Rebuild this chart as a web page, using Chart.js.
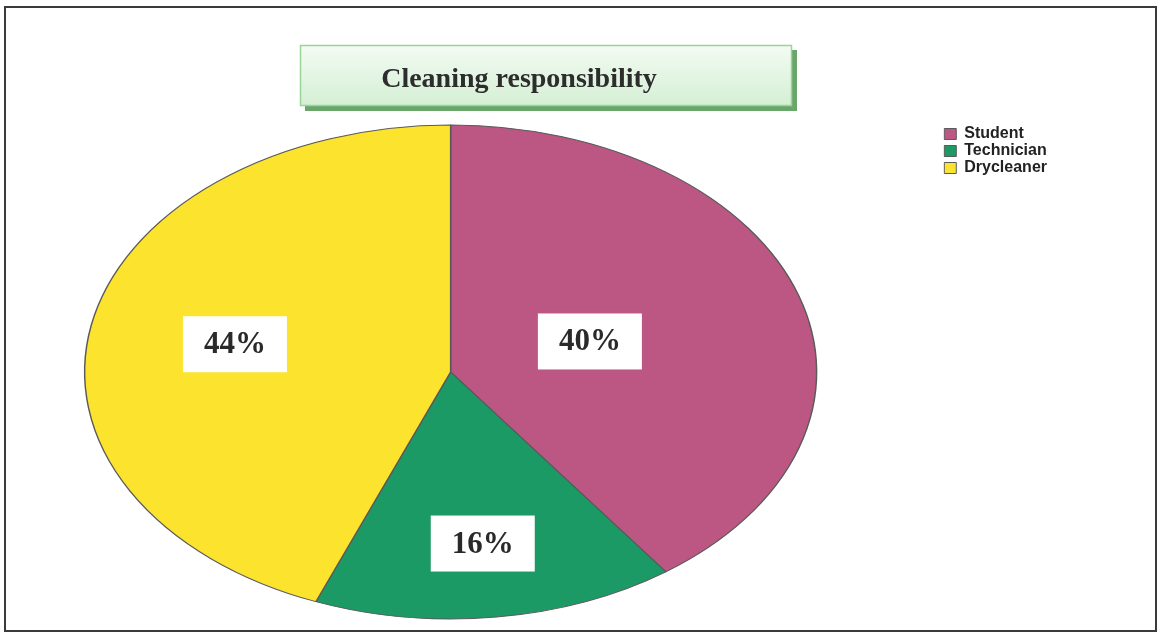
<!DOCTYPE html>
<html>
<head>
<meta charset="utf-8">
<script src="https://cdn.jsdelivr.net/npm/chart.js@4.4.1/dist/chart.umd.min.js"></script>
<style>
html,body{margin:0;padding:0;background:#fff;overflow:hidden;}
#wrap{width:1159px;height:633px;overflow:hidden;}
/* canvas is a little wider than the page and pulled left, so the pie centre can sit left of the legend gap */
#pie{margin-left:-42px;}
</style>
</head>
<body>
<div id="wrap"><canvas id="pie" width="1201" height="633"></canvas></div>
<script>
// data
const groups = ['Student', 'Technician', 'Drycleaner'];
const shares = [40, 16, 44];
const sliceColours = ['#bc5682', '#1c9a66', '#fbe32e'];
const chartTitle = 'Cleaning responsibility';

const shiftX = 42;
// the pie in the scan is an ellipse: horizontal radius / vertical radius
const stretchX = 366 / 247;
// how far out along each slice the % box sits (fraction of radius)
const labelReach = [0.4, 0.7, 0.6];

const squash = {
	id: 'squash',
	beforeDatasetDraw(chart, args){
		const arc = args.meta.data[0];
		const ctx = chart.ctx;
		ctx.save();
		ctx.translate(arc.x, arc.y);
		ctx.scale(stretchX, 1);
		ctx.translate(-arc.x, -arc.y);
	},
	afterDatasetDraw(chart){ chart.ctx.restore(); }
};

const frame = {
	id: 'frame',
	beforeDraw(chart){
		const ctx = chart.ctx;
		ctx.save();
		ctx.fillStyle = '#fff';
		ctx.fillRect(0, 0, chart.width, chart.height);
		ctx.translate(shiftX, 0);
		ctx.strokeStyle = '#3a3a3a';
		ctx.lineWidth = 2;
		ctx.strokeRect(5, 7, 1151, 624);

		// title box with a drop shadow
		ctx.fillStyle = '#6aa66a';
		ctx.fillRect(305, 50, 492, 61);
		const g = ctx.createLinearGradient(0, 45, 0, 106);
		g.addColorStop(0, '#f3fbf3');
		g.addColorStop(1, '#d4efd4');
		ctx.fillStyle = g;
		ctx.fillRect(300, 45, 492, 61);
		ctx.strokeStyle = '#9ad49a';
		ctx.lineWidth = 1.5;
		ctx.strokeRect(300.5, 45.5, 491, 60);
		ctx.font = 'bold 28px "Liberation Serif", "Times New Roman", serif';
		ctx.fillStyle = '#2d2d2d';
		ctx.textAlign = 'center';
		ctx.textBaseline = 'alphabetic';
		ctx.fillText(chartTitle, 519, 87);
		ctx.restore();
	}
};

const percentLabels = {
	id: 'percentLabels',
	afterDatasetsDraw(chart){
		const ctx = chart.ctx;
		const meta = chart.getDatasetMeta(0);
		meta.data.forEach((arc, i) => {
			const mid = (arc.startAngle + arc.endAngle) / 2;
			const r = arc.outerRadius * labelReach[i];
			const x = arc.x + Math.cos(mid) * r * stretchX;
			const y = arc.y + Math.sin(mid) * r;
			ctx.save();
			ctx.fillStyle = '#fff';
			ctx.fillRect(x - 52, y - 28, 104, 56);
			ctx.font = 'bold 31px "Liberation Serif", "Times New Roman", serif';
			ctx.fillStyle = '#2a2a2a';
			ctx.textAlign = 'center';
			ctx.textBaseline = 'middle';
			ctx.fillText(shares[i] + '%', x, y + 1);
			ctx.restore();
		});
	}
};

new Chart(document.getElementById('pie'), {
	type: 'pie',
	data: {
		labels: groups,
		datasets: [{
			data: shares,
			backgroundColor: sliceColours,
			borderColor: '#5a5a5a',
			borderWidth: 1,
			radius: 247,
			clip: false
		}]
	},
	options: {
		responsive: false,
		animation: false,
		layout: { padding: { left: 0, right: 102, top: 125, bottom: 14 } },
		plugins: {
			tooltip: { enabled: false },
			title: { display: false },
			legend: {
				position: 'right',
				align: 'start',
				labels: {
					boxWidth: 12,
					boxHeight: 11,
					padding: 1,
					color: '#222',
					font: { family: '"Liberation Sans", Arial, sans-serif', weight: 'bold', size: 16 }
				}
			}
		}
	},
	plugins: [frame, squash, percentLabels]
});
</script>
</body>
</html>
